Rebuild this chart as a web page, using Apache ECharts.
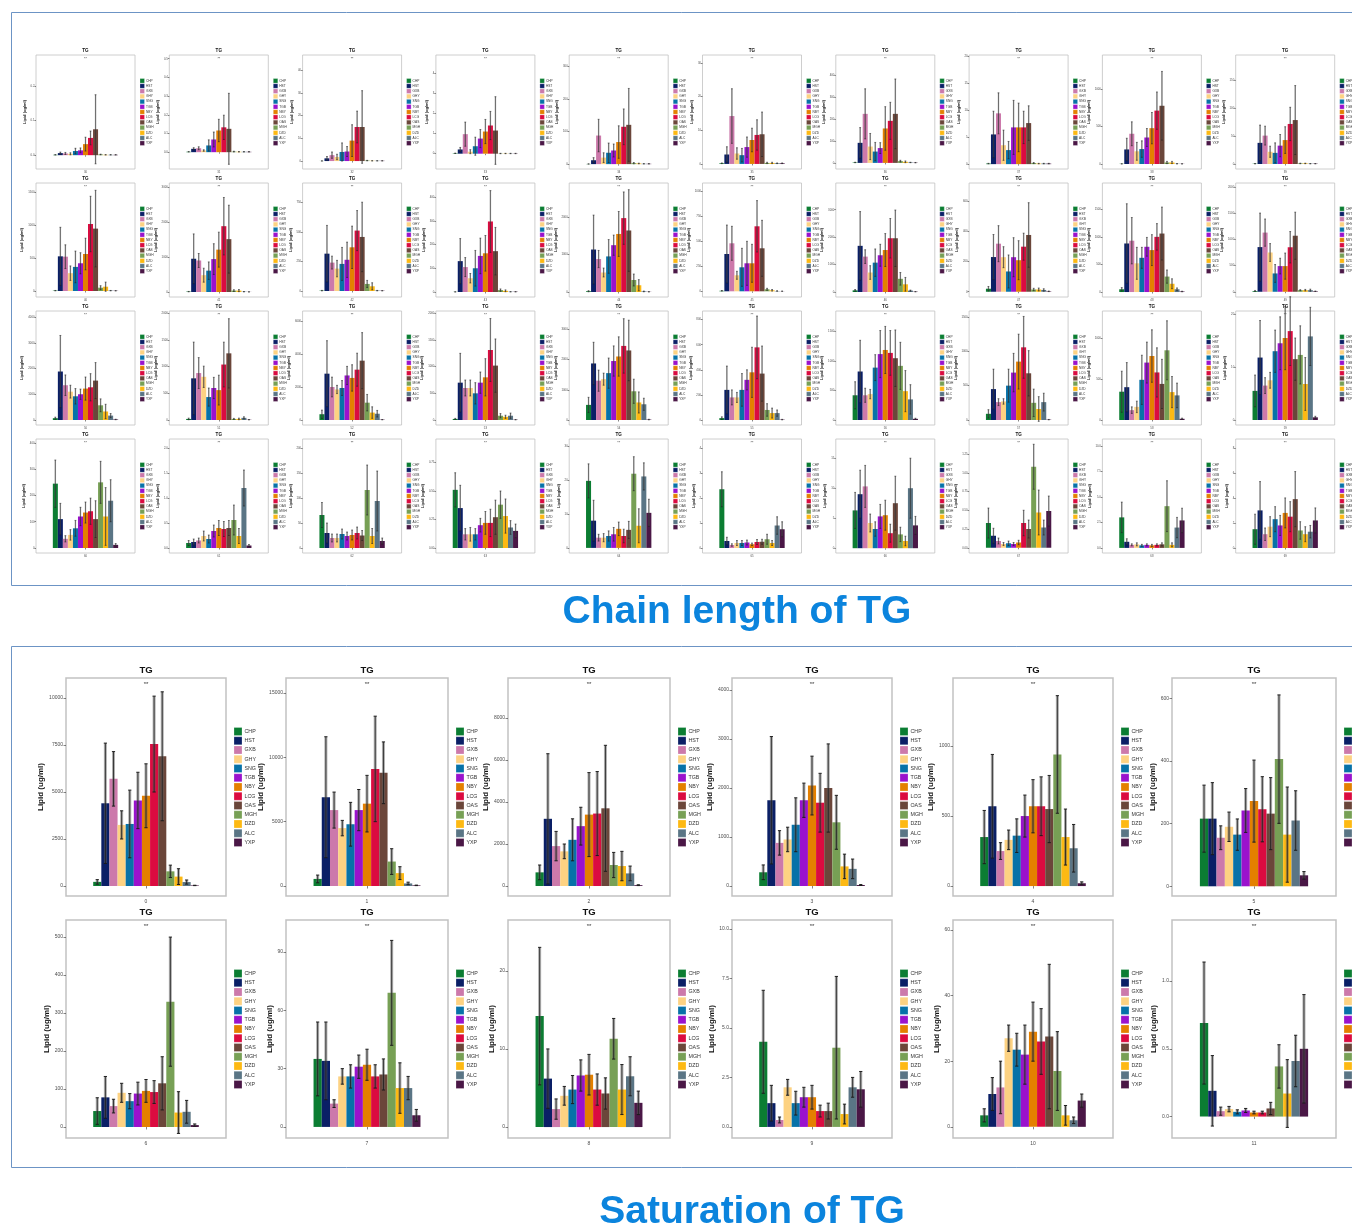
<!DOCTYPE html>
<html>
<head>
<meta charset="utf-8">
<script src="https://cdn.jsdelivr.net/npm/echarts@6/dist/echarts.min.js"></script>
<style>
  html, body { margin: 0; padding: 0; background: #ffffff; }
  #chart { width: 1352px; height: 1228px; }
</style>
</head>
<body>
<div id="chart"></div>
<script>
// Sample groups and their fill colours
const samples = ['CHP', 'HST', 'GXB', 'GHY', 'SNG', 'TGB', 'NBY', 'LCG', 'OAS', 'MGH', 'DZD', 'ALC', 'YXP'];
const sampleColors = ['#0b7d32', '#0a1f66', '#cc79ab', '#fdd282', '#0772a8', '#9a12cd', '#e48000', '#db0b40',
  '#6b463a', '#77a055', '#fdb913', '#5a7585', '#4a1746'];

// ---- Chain length of TG (one panel per carbon number) ----
const chainLabels = ['30', '31', '32', '33', '34', '35', '36', '37', '38', '39',
  '40', '41', '42', '43', '44', '45', '46', '47', '48', '49',
  '50', '51', '52', '53', '54', '55', '56', '57', '58', '59',
  '60', '61', '62', '63', '64', '65', '66', '67', '68', '69'];

const chainMeans = [
  [0.001, 0.006, 0.005, 0.004, 0.012, 0.014, 0.032, 0.05, 0.075, 0.002, 0.001, 0.001, 0.001],
  [0.002, 0.018, 0.021, 0.009, 0.036, 0.068, 0.116, 0.133, 0.125, 0.003, 0.002, 0.002, 0.002],
  [0.05, 1.2, 2.6, 1.8, 4, 4.2, 9, 15, 15, 0.2, 0.1, 0.1, 0.1],
  [0.02, 0.21, 0.97, 0.1, 0.37, 0.75, 1.1, 1.4, 1.15, 0.01, 0.01, 0.01, 0.01],
  [0.5, 12, 88, 20, 35, 42, 68, 115, 121, 3, 2, 1, 1],
  [0.2, 2.8, 14.2, 3.1, 2.6, 5, 7.1, 8.6, 8.8, 0.3, 0.3, 0.2, 0.2],
  [2, 92, 225, 75, 52, 68, 158, 193, 225, 8, 5, 2, 1],
  [0.1, 5.5, 9.4, 3.5, 2.6, 6.8, 6.8, 6.8, 7.6, 0.2, 0.1, 0.1, 0.1],
  [2, 195, 405, 170, 200, 355, 480, 715, 780, 20, 20, 3, 2],
  [0.5, 38, 51, 22, 20, 33, 43, 72, 79, 1, 1, 0.5, 0.5],
  [5, 525, 520, 270, 365, 420, 560, 1015, 945, 50, 65, 5, 3],
  [10, 950, 900, 480, 610, 940, 1210, 1880, 1510, 40, 40, 8, 3],
  [3, 317, 241, 190, 230, 265, 371, 513, 459, 60, 40, 3, 2],
  [0.5, 130, 105, 58, 100, 152, 163, 297, 172, 8, 5, 1, 1],
  [20, 1134, 880, 520, 950, 1250, 1550, 1973, 1643, 320, 180, 15, 5],
  [5, 373, 480, 160, 240, 280, 280, 650, 430, 20, 10, 3, 1],
  [60, 1683, 1290, 710, 1070, 1340, 1530, 1960, 1960, 480, 280, 50, 10],
  [20, 231, 320, 230, 135, 230, 210, 300, 378, 15, 15, 12, 3],
  [50, 880, 930, 520, 620, 820, 760, 1000, 1060, 280, 150, 50, 10],
  [15, 853, 1130, 750, 350, 490, 490, 850, 1070, 30, 30, 30, 10],
  [70, 1883, 1350, 1100, 920, 1000, 1220, 1270, 1530, 570, 330, 170, 20],
  [20, 781, 880, 810, 430, 600, 560, 1040, 1250, 20, 20, 40, 5],
  [350, 2808, 2000, 1850, 1940, 2700, 2550, 3050, 3596, 1050, 450, 380, 20],
  [20, 700, 600, 600, 500, 700, 800, 1313, 1020, 80, 60, 80, 5],
  [500, 1870, 1300, 1350, 1550, 1950, 2100, 2450, 2300, 950, 580, 520, 15],
  [15, 240, 180, 180, 240, 320, 380, 579, 370, 80, 55, 55, 3],
  [420, 824, 420, 440, 890, 1120, 1190, 1140, 1050, 920, 490, 350, 20],
  [90, 450, 260, 270, 500, 690, 850, 1058, 680, 250, 160, 260, 5],
  [345, 400, 120, 160, 490, 700, 780, 580, 440, 850, 340, 300, 15],
  [5.5, 11.8, 6.5, 7.5, 13, 14.5, 15.5, 16.8, 11.5, 12.3, 6.8, 15.8, 0.5],
  [245, 110, 35, 50, 75, 120, 135, 140, 110, 250, 120, 180, 12],
  [0.1, 0.12, 0.15, 0.24, 0.18, 0.34, 0.4, 0.38, 0.4, 0.56, 0.24, 1.2, 0.05],
  [66, 30, 20, 20, 28, 24, 26, 30, 25, 116, 24, 94, 14],
  [0.51, 0.35, 0.12, 0.12, 0.12, 0.2, 0.22, 0.22, 0.27, 0.38, 0.28, 0.18, 0.15],
  [19.7, 8, 3, 3, 3.5, 4, 5.6, 3.5, 5.3, 21.8, 6.5, 21, 10.3],
  [2.35, 0.28, 0.12, 0.2, 0.2, 0.22, 0.15, 0.24, 0.25, 0.35, 0.2, 0.9, 0.75],
  [6.3, 9, 10.3, 4.2, 3.2, 5.3, 5.5, 2.5, 7.5, 2.3, 1.2, 10, 3.8],
  [0.33, 0.16, 0.09, 0.05, 0.06, 0.05, 0.07, 0.33, 0.25, 1.08, 0.47, 0.27, 0.49],
  [3, 0.6, 0.3, 0.35, 0.25, 0.3, 0.25, 0.3, 0.35, 4.1, 0.3, 2, 2.7],
  [1.5, 3, 1.1, 1.7, 2.3, 1.8, 2.8, 2.5, 3.9, 1.4, 1.1, 1.3, 2.2]
];

const chainSds = [
  [0.0005, 0.003, 0.003, 0.003, 0.008, 0.007, 0.02, 0.02, 0.1, 0.001, 0.0005, 0.0005, 0.0005],
  [0.001, 0.006, 0.008, 0.004, 0.03, 0.04, 0.06, 0.065, 0.19, 0.002, 0.001, 0.001, 0.001],
  [0.02, 0.8, 1.4, 1.2, 4, 2.2, 7, 7, 16, 0.1, 0.05, 0.05, 0.05],
  [0.01, 0.1, 0.6, 0.1, 0.45, 0.45, 0.6, 0.7, 1.68, 0.01, 0.01, 0.01, 0.01],
  [0.3, 8, 50, 15, 30, 20, 50, 55, 112, 2, 1, 0.5, 0.5],
  [0.1, 2.3, 8.1, 1.7, 2, 3, 3.5, 4.5, 6.6, 0.2, 0.2, 0.1, 0.1],
  [1, 70, 115, 60, 42, 25, 100, 85, 160, 4, 4, 1, 1],
  [0.05, 4.3, 3.8, 2.8, 1.6, 5, 4.5, 3, 3.2, 0.1, 0.05, 0.05, 0.05],
  [1, 150, 160, 120, 110, 120, 210, 250, 460, 15, 15, 2, 1],
  [0.3, 32, 17, 10, 18, 20, 24, 30, 62, 0.5, 0.5, 0.3, 0.3],
  [3, 440, 180, 110, 240, 160, 240, 420, 580, 30, 70, 3, 2],
  [6, 710, 200, 200, 250, 440, 500, 820, 970, 25, 30, 5, 2],
  [2, 240, 55, 70, 140, 150, 180, 170, 295, 30, 30, 2, 1],
  [0.3, 95, 40, 20, 75, 75, 75, 130, 100, 5, 4, 0.5, 0.5],
  [15, 920, 230, 120, 450, 270, 600, 700, 1090, 160, 150, 10, 3],
  [3, 290, 170, 40, 190, 220, 190, 257, 280, 10, 8, 2, 1],
  [30, 1250, 250, 250, 500, 400, 600, 720, 1030, 230, 250, 20, 5],
  [15, 150, 120, 70, 110, 130, 130, 90, 215, 8, 10, 8, 2],
  [30, 720, 420, 290, 190, 170, 280, 240, 480, 120, 90, 25, 5],
  [10, 650, 260, 170, 170, 150, 250, 300, 450, 10, 15, 20, 5],
  [40, 1400, 400, 250, 300, 200, 450, 530, 700, 250, 280, 80, 10],
  [15, 680, 290, 200, 170, 200, 280, 420, 650, 10, 15, 20, 3],
  [250, 2000, 600, 250, 450, 550, 800, 1000, 1700, 500, 350, 200, 10],
  [10, 550, 150, 150, 200, 200, 350, 590, 500, 40, 30, 50, 3],
  [250, 700, 350, 200, 500, 500, 650, 900, 1000, 400, 350, 200, 10],
  [10, 190, 60, 40, 130, 80, 200, 250, 220, 50, 40, 25, 2],
  [230, 530, 120, 80, 220, 400, 400, 380, 480, 400, 350, 250, 10],
  [60, 290, 50, 40, 240, 280, 400, 450, 330, 200, 180, 130, 3],
  [250, 300, 40, 70, 300, 250, 320, 300, 300, 360, 190, 150, 8],
  [3, 7, 1.5, 1.5, 4, 5, 6, 6.5, 4, 5.5, 5, 5.5, 0.2],
  [90, 60, 12, 20, 30, 35, 40, 50, 70, 80, 110, 80, 5],
  [0.05, 0.06, 0.05, 0.1, 0.08, 0.12, 0.15, 0.15, 0.15, 0.3, 0.15, 0.36, 0.02],
  [25, 20, 8, 8, 10, 8, 10, 12, 10, 50, 15, 60, 6],
  [0.15, 0.2, 0.05, 0.06, 0.05, 0.06, 0.1, 0.12, 0.15, 0.12, 0.15, 0.06, 0.06],
  [5, 6, 1, 1.2, 1.5, 2, 2, 2, 2.5, 5, 5, 4, 4],
  [0.7, 0.15, 0.05, 0.1, 0.1, 0.1, 0.05, 0.1, 0.1, 0.2, 0.1, 0.35, 0.3],
  [3, 4, 3.5, 1.5, 1.2, 2, 2.5, 1.5, 4.5, 1.2, 0.8, 5, 1.5],
  [0.2, 0.1, 0.04, 0.02, 0.03, 0.02, 0.03, 0.17, 0.12, 0.3, 0.3, 0.1, 0.2],
  [1.5, 0.3, 0.1, 0.15, 0.1, 0.1, 0.1, 0.1, 0.15, 2.5, 0.2, 1, 1.2],
  [1.2, 2.3, 0.5, 0.8, 1, 0.8, 1.2, 1.2, 2.2, 0.7, 0.6, 0.5, 1]
];

const chainTicks = [
  [0, 0.1, 0.2], [0, 0.1, 0.2, 0.3, 0.4, 0.5], [0, 10, 20, 30, 40], [0, 1, 2, 3, 4], [0, 100, 200, 300],
  [0, 10, 20, 30], [0, 100, 200, 300, 400], [0, 5, 10, 15, 20], [0, 500, 1000], [0, 50, 100, 150],
  [0, 500, 1000, 1500], [0, 1000, 2000, 3000], [0, 250, 500, 750], [0, 100, 200, 300, 400], [0, 1000, 2000],
  [0, 250, 500, 750, 1000], [0, 1000, 2000, 3000], [0, 200, 400, 600], [0, 500, 1000, 1500], [0, 500, 1000, 1500, 2000],
  [0, 1000, 2000, 3000, 4000], [0, 500, 1000, 1500, 2000], [0, 2000, 4000, 6000], [0, 500, 1000, 1500, 2000], [0, 1000, 2000, 3000],
  [0, 200, 400, 600, 800], [0, 500, 1000, 1500], [0, 500, 1000, 1500], [0, 500, 1000], [0, 10, 20],
  [0, 100, 200, 300, 400], [0, 0.5, 1, 1.5, 2], [0, 50, 100, 150, 200], [0, 0.25, 0.5, 0.75], [0, 10, 20, 30],
  [0, 1, 2, 3, 4], [0, 5, 10, 15], [0, 0.25, 0.5, 0.75, 1, 1.25], [0, 2.5, 5, 7.5, 10], [0, 2, 4, 6, 8]
];

const chainRange = [
  [-0.04, 0.29], [-0.09, 0.52], [-3.5, 46.7], [-0.76, 4.9], [-15, 336],
  [-1.5, 32.3], [-28, 495], [-0.9, 20.2], [-67, 1460], [-9, 196],
  [-91, 1636], [-143, 3114], [-51, 917], [-21, 459], [-134, 2911],
  [-57, 1083], [-183, 3975], [-35, 724], [-90, 1976], [-100, 2077],
  [-195, 4234], [-94, 2044], [-303, 6606], [-94, 2044], [-165, 3604],
  [-40, 869], [-85, 1852], [-73, 1587], [-61, 1329], [-0.95, 20.6],
  [-19, 415], [-0.1, 2.18], [-10, 218], [-0.044, 0.956], [-1.5, 32],
  [-0.2, 4.36], [-0.8, 18.2], [-0.07, 1.45], [-0.5, 10.7], [-0.4, 8.7]
];

// ---- Saturation of TG (one panel per number of double bonds) ----
const satLabels = ['0', '1', '2', '3', '4', '5', '6', '7', '8', '9', '10', '11'];

const satMeans = [
  [220, 4400, 5700, 3250, 3300, 4550, 4800, 7550, 6900, 780, 500, 210, 30],
  [550, 6900, 5900, 4500, 4800, 5900, 6400, 9100, 8800, 1900, 1000, 200, 50],
  [650, 3200, 1900, 1650, 2200, 2850, 3400, 3450, 3700, 1000, 950, 600, 40],
  [280, 1750, 880, 950, 1250, 1750, 2050, 1700, 2000, 1300, 400, 350, 20],
  [350, 570, 250, 330, 360, 500, 570, 570, 550, 940, 350, 270, 20],
  [216, 216, 155, 190, 165, 242, 272, 246, 232, 406, 165, 210, 35],
  [42, 78, 55, 90, 68, 88, 95, 92, 115, 330, 38, 40, 5],
  [35, 34, 12, 26, 26, 31, 32, 26, 27, 69, 20, 20, 6],
  [14.2, 6.2, 2.3, 4.0, 4.8, 6.6, 6.7, 4.8, 4.3, 11.3, 4.8, 6.5, 3.1],
  [4.3, 1.2, 0.35, 2.0, 1.2, 1.5, 1.5, 0.8, 0.8, 4.0, 0.65, 2.0, 1.9],
  [3.5, 10, 12, 27, 23.5, 22, 29, 26, 27.5, 17, 3.5, 2, 8],
  [0.69, 0.19, 0.04, 0.055, 0.035, 0.045, 0.03, 0.03, 0.06, 0.37, 0.17, 0.41, 0.5]
];

const satSds = [
  [120, 3200, 1450, 750, 1800, 1500, 1700, 2550, 3430, 330, 420, 110, 10],
  [300, 4700, 1400, 600, 1700, 1600, 2200, 4100, 2400, 1000, 500, 100, 20],
  [350, 3100, 700, 350, 1000, 900, 2000, 2000, 3000, 600, 700, 350, 20],
  [150, 1300, 250, 250, 550, 350, 600, 600, 900, 550, 250, 200, 10],
  [190, 370, 60, 70, 120, 150, 190, 210, 240, 420, 200, 170, 10],
  [107, 115, 38, 47, 50, 70, 131, 104, 115, 205, 152, 95, 12],
  [35, 55, 18, 25, 20, 30, 30, 30, 70, 170, 55, 30, 3],
  [19, 20, 2, 4, 6, 6, 8, 6, 8, 27, 13, 6, 3],
  [8.8, 3.8, 1.3, 1.2, 1.8, 2.0, 2.6, 2.0, 2.0, 2.6, 3.2, 2.5, 1.5],
  [2.6, 0.9, 0.15, 0.4, 0.6, 0.5, 0.6, 0.3, 0.4, 3.6, 0.5, 0.5, 0.9],
  [2, 5, 8, 4, 5, 9, 9, 10, 22, 12, 3, 1, 2],
  [0.45, 0.26, 0.03, 0.02, 0.015, 0.015, 0.01, 0.01, 0.045, 0.16, 0.25, 0.19, 0.4]
];

const satTicks = [
  [0, 2500, 5000, 7500, 10000], [0, 5000, 10000, 15000], [0, 2000, 4000, 6000, 8000],
  [0, 1000, 2000, 3000, 4000], [0, 500, 1000], [0, 200, 400, 600],
  [0, 100, 200, 300, 400, 500], [0, 30, 60, 90], [0, 10, 20],
  [0, 2.5, 5, 7.5, 10], [0, 20, 40, 60], [0, 0.5, 1]
];

const satRange = [
  [-532, 11064], [-777, 16166], [-476, 9905], [-204, 4245], [-71, 1486], [-31, 665],
  [-29, 545], [-5.7, 106.5], [-1.4, 26.5], [-0.56, 10.45], [-3.4, 63], [-0.158, 1.45]
];

const panelTitle = 'TG';
const signifMark = '**';
const yName = 'Lipid (ug/ml)';

// ---------------------------------------------------------------
const FONT = '"Liberation Sans", Arial, sans-serif';
const GAP = 0.34;   // share of the category band left empty around the bar group

const small = {
  border: 0.8, tick: 1.5, tickFont: 2.8, labelMargin: 1.5, nameFont: 4, nameBase: 1.2, charW: 1.6,
  key: 4.5, keyStep: 5.2, legendFont: 3.2, legendDx: 5, textDx: 1.5, titleFont: 4.6, titleDy: 4,
  starFont: 3.6, starDy: 3.5, errWide: 1.4, errThin: 0.45, capHalf: 0.9
};
const large = {
  border: 1.5, tick: 2.5, tickFont: 5, labelMargin: 3, nameFont: 8, nameBase: 1, charW: 2.8,
  key: 8, keyStep: 9.25, legendFont: 5.3, legendDx: 8, textDx: 2.5, titleFont: 9.5, titleDy: 8,
  starFont: 6, starDy: 6.5, errWide: 3, errThin: 0.8, capHalf: 1.6
};

const grids = [], xAxes = [], yAxes = [], series = [], graphics = [];

function decimals(ticks) {
  return Math.max(...ticks.map(v => {
    const s = String(v);
    const k = s.indexOf('.');
    return k < 0 ? 0 : s.length - k - 1;
  }));
}

function errorBars(sz) {
  return function (params, api) {
    const i = api.value(1), m = api.value(2), s = api.value(3);
    const center = api.coord([0, m]);
    const band = api.size([1, 0])[0];
    const region = band * (1 - GAP);
    const bw = region / samples.length;
    const x = center[0] - region / 2 + (i + 0.5) * bw;
    const yTop = api.coord([0, m + s])[1];
    const yBot = api.coord([0, m - s])[1];
    const c = sz.capHalf;
    return {
      type: 'group',
      children: [
        { type: 'line', shape: { x1: x, y1: yTop, x2: x, y2: yBot },
          style: { stroke: 'rgba(95,95,95,0.5)', lineWidth: sz.errWide } },
        { type: 'line', shape: { x1: x, y1: yTop, x2: x, y2: yBot },
          style: { stroke: '#1a1a1a', lineWidth: sz.errThin } },
        { type: 'line', shape: { x1: x - c, y1: yTop, x2: x + c, y2: yTop },
          style: { stroke: '#1a1a1a', lineWidth: sz.errThin * 1.2 } },
        { type: 'line', shape: { x1: x - c, y1: yBot, x2: x + c, y2: yBot },
          style: { stroke: '#1a1a1a', lineWidth: sz.errThin * 1.2 } }
      ]
    };
  };
}

function addPanel(box, label, means, sds, ticks, range, sz) {
  const k = grids.length;
  grids.push({
    left: box.x, top: box.y, width: box.w, height: box.h,
    show: true, borderColor: '#c2c2c2', borderWidth: sz.border, backgroundColor: '#ffffff'
  });
  xAxes.push({
    type: 'category', gridIndex: k, data: [label],
    axisLine: { show: false },
    axisTick: { show: true, alignWithLabel: true, length: sz.tick, lineStyle: { color: '#333', width: 0.6 } },
    axisLabel: { fontSize: sz.tickFont, color: '#4d4d4d', margin: sz.labelMargin, fontFamily: FONT },
    splitLine: { show: false }
  });
  const dec = decimals(ticks);
  const maxLen = Math.max(...ticks.map(v => v.toFixed(dec).length));
  yAxes.push({
    type: 'value', gridIndex: k, min: range[0], max: range[1],
    name: yName, nameLocation: 'middle', nameGap: sz.nameBase + maxLen * sz.charW + sz.labelMargin,
    nameTextStyle: { fontSize: sz.nameFont, fontWeight: 'bold', color: '#111', fontFamily: FONT },
    axisLine: { show: false },
    axisTick: { show: true, length: sz.tick, customValues: ticks, lineStyle: { color: '#333', width: 0.6 } },
    axisLabel: {
      customValues: ticks, fontSize: sz.tickFont, color: '#4d4d4d', margin: sz.labelMargin,
      fontFamily: FONT, formatter: v => Number(v).toFixed(dec)
    },
    splitLine: { show: false }
  });
  samples.forEach((name, i) => {
    series.push({
      type: 'bar', name: name, xAxisIndex: k, yAxisIndex: k, data: [means[i]],
      barGap: '0%', barCategoryGap: (GAP * 100) + '%',
      itemStyle: { color: sampleColors[i] }, silent: true
    });
  });
  series.push({
    type: 'custom', name: 'sd', xAxisIndex: k, yAxisIndex: k, z: 5, silent: true,
    renderItem: errorBars(sz),
    data: means.map((m, i) => [0, i, m, sds[i]]),
    encode: { x: 0, y: 2 }
  });

  // panel title and significance mark
  const cx = box.x + box.w / 2;
  graphics.push({
    type: 'text', x: cx, y: box.y - sz.titleDy, silent: true,
    style: { text: panelTitle, fontSize: sz.titleFont, fontWeight: 'bold', fill: '#111',
      fontFamily: FONT, align: 'center', verticalAlign: 'middle' }
  });
  graphics.push({
    type: 'text', x: cx, y: box.y + sz.starDy, silent: true,
    style: { text: signifMark, fontSize: sz.starFont, fill: '#333',
      fontFamily: FONT, align: 'center', verticalAlign: 'middle' }
  });

  // key of sample colours beside the panel
  const lx = box.x + box.w + sz.legendDx;
  const span = (samples.length - 1) * sz.keyStep + sz.key;
  const ly = box.y + box.h / 2 - span / 2;
  samples.forEach((name, i) => {
    const y = ly + i * sz.keyStep;
    graphics.push({
      type: 'rect', silent: true,
      shape: { x: lx, y: y, width: sz.key, height: sz.key },
      style: { fill: sampleColors[i], stroke: 'rgba(255,255,255,0.6)', lineWidth: 0.4 }
    });
    graphics.push({
      type: 'text', x: lx + sz.key + sz.textDx, y: y + sz.key / 2, silent: true,
      style: { text: name, fontSize: sz.legendFont, fill: '#333', fontFamily: FONT,
        align: 'left', verticalAlign: 'middle' }
    });
  });
}

// Chain length: 4 rows x 10 columns
chainLabels.forEach((lab, n) => {
  const r = Math.floor(n / 10), c = n % 10;
  addPanel({ x: 36 + 133.3 * c, y: 55 + 128 * r, w: 99, h: 114 },
    lab, chainMeans[n], chainSds[n], chainTicks[n], chainRange[n], small);
});

// Saturation: 2 rows x 6 columns
const satLeft = [66, 286, 508, 732, 953, 1172];
const satRight = [226, 448, 670, 892, 1113, 1336];
const satTop = [678, 920];
satLabels.forEach((lab, n) => {
  const r = Math.floor(n / 6), c = n % 6;
  addPanel({ x: satLeft[c], y: satTop[r], w: satRight[c] - satLeft[c], h: 218 },
    lab, satMeans[n], satSds[n], satTicks[n], satRange[n], large);
});

// Section frames and headings
const frameColor = '#6c94c5';
graphics.push({
  type: 'polyline', silent: true,
  shape: { points: [[1352, 12.5], [11.5, 12.5], [11.5, 585.5], [1352, 585.5]] },
  style: { stroke: frameColor, lineWidth: 1, fill: null }
});
graphics.push({
  type: 'polyline', silent: true,
  shape: { points: [[1352, 646.5], [11.5, 646.5], [11.5, 1167.5], [1352, 1167.5]] },
  style: { stroke: frameColor, lineWidth: 1, fill: null }
});
graphics.push({
  type: 'text', x: 737, y: 612, silent: true,
  style: { text: 'Chain length of TG', fontSize: 39, fontWeight: 'bold', fill: '#0b84dd',
    fontFamily: FONT, align: 'center', verticalAlign: 'middle' }
});
graphics.push({
  type: 'text', x: 752, y: 1212, silent: true,
  style: { text: 'Saturation of TG', fontSize: 39, fontWeight: 'bold', fill: '#0b84dd',
    fontFamily: FONT, align: 'center', verticalAlign: 'middle' }
});

const chart = echarts.init(document.getElementById('chart'), null, { renderer: 'canvas' });
chart.setOption({
  animation: false,
  backgroundColor: '#ffffff',
  textStyle: { fontFamily: FONT },
  grid: grids,
  xAxis: xAxes,
  yAxis: yAxes,
  series: series,
  graphic: { elements: graphics },
  tooltip: { show: false }
});
</script>
</body>
</html>
